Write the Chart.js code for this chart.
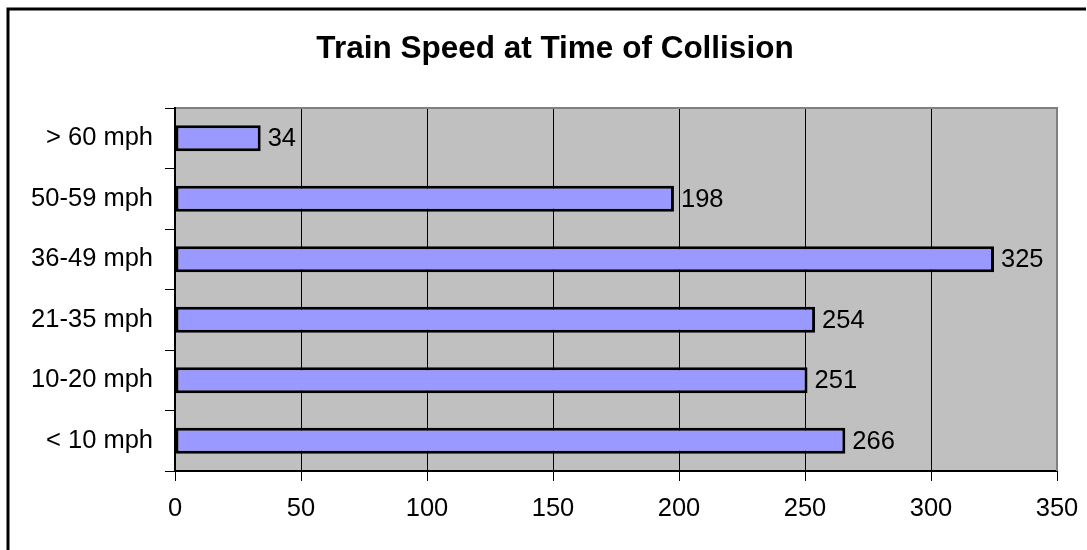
<!DOCTYPE html>
<html>
<head>
<meta charset="utf-8">
<script src="https://cdn.jsdelivr.net/npm/chart.js@4"></script>
<style>
  html, body { margin: 0; padding: 0; background: #fff; overflow: hidden; }
  #wrap { width: 1087px; height: 550px; }
</style>
</head>
<body>
<div id="wrap"><canvas id="c" width="1087" height="550"></canvas></div>
<script>
const titleText = "Train Speed at Time of Collision";
const categories = ["> 60 mph", "50-59 mph", "36-49 mph", "21-35 mph", "10-20 mph", "< 10 mph"];
const counts = [34, 198, 325, 254, 251, 266];
const xTicks = [0, 50, 100, 150, 200, 250, 300, 350];

const FONT = "'Liberation Sans', Arial, sans-serif";
const LABEL_SIZE = 25.5;

const decor = {
  id: 'decor',
  beforeDraw(chart) {
    const ctx = chart.ctx, a = chart.chartArea;
    ctx.save();
    ctx.fillStyle = '#ffffff';
    ctx.fillRect(0, 0, chart.width, chart.height);
    // outer frame (left and top edges visible only)
    ctx.strokeStyle = '#000000';
    ctx.lineWidth = 3;
    ctx.beginPath();
    ctx.moveTo(8, chart.height);
    ctx.lineTo(8, 9);
    ctx.lineTo(chart.width - 1, 9);
    ctx.stroke();
    // plot background
    ctx.fillStyle = '#C0C0C0';
    ctx.fillRect(a.left, a.top, a.right - a.left, a.bottom - a.top);
    // title
    ctx.fillStyle = '#000000';
    ctx.font = "bold 31.5px " + FONT;
    ctx.textAlign = 'center';
    ctx.textBaseline = 'alphabetic';
    ctx.fillText(titleText, 555, 58);
    ctx.restore();
  },
  beforeDatasetsDraw(chart) {
    const ctx = chart.ctx, a = chart.chartArea;
    ctx.save();
    ctx.strokeStyle = '#808080';
    ctx.lineWidth = 2;
    ctx.beginPath();
    ctx.moveTo(a.left + 1, a.top);
    ctx.lineTo(a.right, a.top);
    ctx.lineTo(a.right, a.bottom);
    ctx.stroke();
    ctx.restore();
  },
  afterDatasetsDraw(chart) {
    const ctx = chart.ctx;
    const meta = chart.getDatasetMeta(0);
    ctx.save();
    ctx.fillStyle = '#000000';
    ctx.font = LABEL_SIZE + "px " + FONT;
    ctx.textAlign = 'left';
    ctx.textBaseline = 'middle';
    meta.data.forEach((bar, i) => {
      ctx.fillText(String(counts[i]), bar.x + 7, bar.y + 1);
    });
    ctx.restore();
  }
};

new Chart(document.getElementById('c'), {
  type: 'bar',
  data: {
    labels: categories,
    datasets: [{
      data: counts,
      backgroundColor: '#9999FF',
      borderColor: '#000000',
      borderWidth: 3,
      borderSkipped: false,
      barPercentage: 0.43,
      categoryPercentage: 1.0
    }]
  },
  options: {
    indexAxis: 'y',
    responsive: false,
    animation: false,
    devicePixelRatio: 1,
    layout: { padding: { top: 108, right: 30, bottom: 0, left: 0 } },
    plugins: {
      legend: { display: false },
      title: { display: false },
      tooltip: { enabled: false }
    },
    scales: {
      x: {
        min: 0,
        max: 350,
        afterFit(scale) {
          scale.height = 79;
          scale.paddingLeft = 0;
          scale.paddingRight = 0;
        },
        afterBuildTicks(scale) { scale.ticks = xTicks.map(v => ({ value: v })); },
        ticks: {
          color: '#000000',
          font: { family: FONT, size: LABEL_SIZE },
          padding: 13,
          maxRotation: 0
        },
        grid: {
          color: '#000000',
          lineWidth: 1,
          drawTicks: true,
          tickLength: 10,
          tickColor: '#000000'
        },
        border: { color: '#000000', width: 2 }
      },
      y: {
        afterFit(scale) {
          scale.width = 175;
          scale.paddingTop = 0;
          scale.paddingBottom = 0;
        },
        ticks: {
          color: '#000000',
          font: { family: FONT, size: LABEL_SIZE },
          padding: 12
        },
        grid: {
          offset: true,
          drawOnChartArea: false,
          drawTicks: true,
          tickLength: 10,
          tickColor: '#000000'
        },
        border: { color: '#000000', width: 2 }
      }
    }
  },
  plugins: [decor]
});
</script>
</body>
</html>
